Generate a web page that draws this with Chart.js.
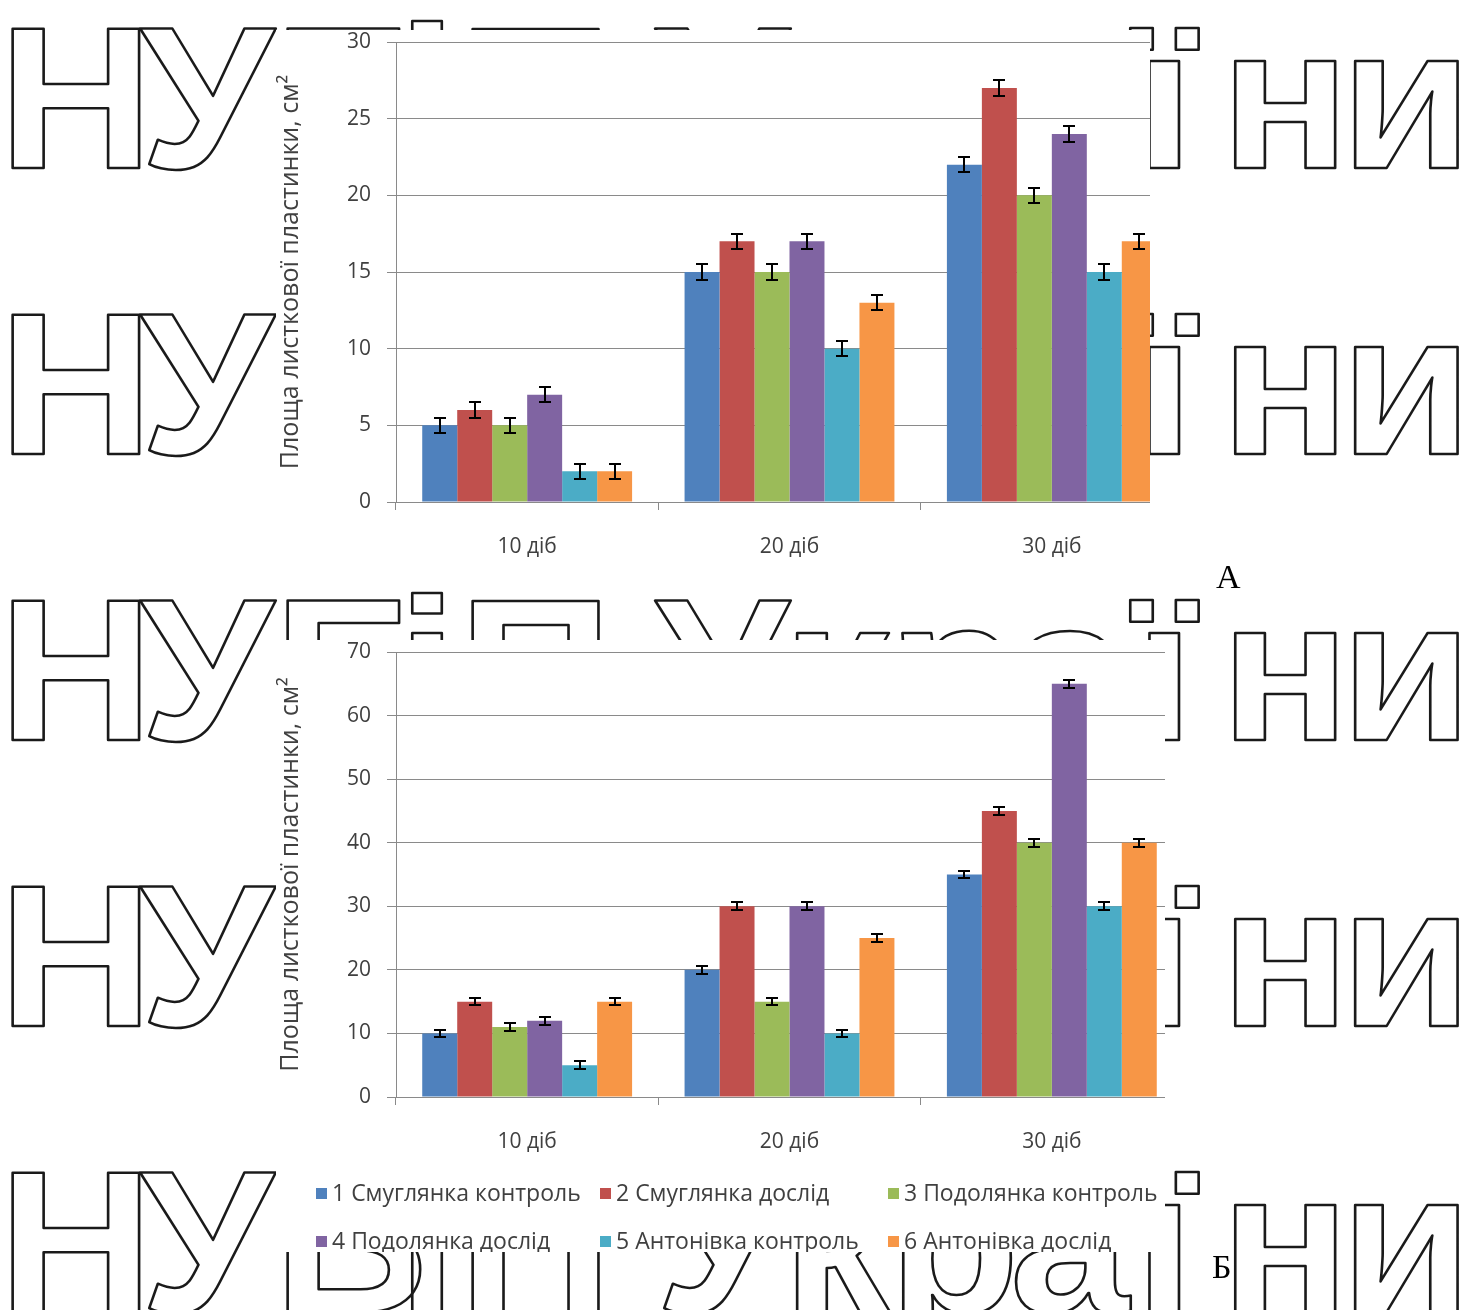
<!DOCTYPE html>
<html lang="uk">
<head>
<meta charset="utf-8">
<title>Площа листкової пластинки</title>
<script src="https://cdn.jsdelivr.net/npm/chart.js@4.4.0/dist/chart.umd.min.js"></script>
<style>
  html, body { margin: 0; padding: 0; background: #fff; }
  body { width: 1464px; height: 1310px; position: relative; overflow: hidden; }
  #wm { position: absolute; left: 0; top: 0; z-index: 0; }
  .box { position: absolute; background: #fff; overflow: hidden; z-index: 1; }
  #boxA { left: 276px; top: 30px; width: 874px; height: 545px; }
  #boxB { left: 276px; top: 640px; width: 889px; height: 612px; }
  .box canvas { position: absolute; left: 0; top: -20px; }
  .tag { position: absolute; z-index: 2; font-family: "Liberation Serif", serif; font-size: 34px; line-height: 34px; color: #000; }
</style>
</head>
<body>
<canvas id="wm" width="1464" height="1310"></canvas>
<div class="box" id="boxA"><canvas id="chartA" width="920" height="565"></canvas></div>
<div class="box" id="boxB"><canvas id="chartB" width="920" height="632"></canvas></div>
<div class="tag" style="left:1216px; top:560px;">А</div>
<div class="tag" style="left:1212px; top:1250px;">Б</div>

<script>
// ---- data ----
const categories = ['10 діб', '20 діб', '30 діб'];
const seriesNames = [
  '1 Смуглянка контроль',
  '2 Смуглянка дослід',
  '3 Подолянка контроль',
  '4 Подолянка дослід',
  '5 Антонівка контроль',
  '6 Антонівка дослід'
];
const yTitle = 'Площа листкової пластинки, см²';

// Chart А
const a1 = [5, 15, 22];
const a2 = [6, 17, 27];
const a3 = [5, 15, 20];
const a4 = [7, 17, 24];
const a5 = [2, 10, 15];
const a6 = [2, 13, 17];
const aErr = [
  [0.5, 0.5, 0.5],
  [0.5, 0.5, 0.5],
  [0.5, 0.5, 0.5],
  [0.5, 0.5, 0.5],
  [0.5, 0.5, 0.5],
  [0.5, 0.5, 0.5]
];
const aTicksMax = 30, aTicksStep = 5;

// Chart Б
const b1 = [10, 20, 35];
const b2 = [15, 30, 45];
const b3 = [11, 15, 40];
const b4 = [12, 30, 65];
const b5 = [5, 10, 30];
const b6 = [15, 25, 40];
const bErr = [
  [0.6, 0.6, 0.6],
  [0.6, 0.6, 0.6],
  [0.6, 0.6, 0.6],
  [0.6, 0.6, 0.6],
  [0.6, 0.6, 0.6],
  [0.6, 0.6, 0.6]
];
const bTicksMax = 70, bTicksStep = 10;

// ---- style ----
const colors = ['#4F81BD', '#C0504D', '#9BBB59', '#8064A2', '#4BACC6', '#F79646'];
const GRID = '#8a8a8a';
const TEXT = '#404040';
const FONT = '"Open Sans", Lato, sans-serif';

// ---- background lettering ----
(function drawLettering() {
  const c = document.getElementById('wm').getContext('2d');
  c.font = 'bold 203px "Liberation Sans"';
  c.lineWidth = 2.5;
  c.strokeStyle = '#1a1a1a';
  c.lineJoin = 'round';
  const letters = [['Н', 12], ['У', 140], ['Б', 287], ['і', 412], ['П', 472],
                   ['У', 655], ['к', 797], ['р', 902], ['а', 1015], ['ї', 1130], ['н', 1235], ['и', 1355]];
  const baselines = [168, 454, 740, 1026, 1312];
  baselines.forEach(b => letters.forEach(([ch, left]) => {
    const m = c.measureText(ch);
    c.save();
    c.translate(left, b);
    c.scale(1.06, 1);
    c.strokeText(ch, m.actualBoundingBoxLeft, 0);
    c.restore();
  }));
})();

// ---- plugins ----
const errorBars = {
  id: 'errorBars',
  afterDatasetsDraw(chart, args, opts) {
    const ctx = chart.ctx;
    const y = chart.scales.y;
    ctx.save();
    ctx.strokeStyle = '#000';
    ctx.lineWidth = 2;
    chart.data.datasets.forEach((ds, i) => {
      const meta = chart.getDatasetMeta(i);
      meta.data.forEach((bar, j) => {
        const v = ds.data[j], e = opts.errors[i][j];
        const yt = Math.round(y.getPixelForValue(v + e));
        const yb = Math.round(y.getPixelForValue(v - e));
        const x = Math.round(bar.x);
        ctx.beginPath();
        ctx.moveTo(x, yt); ctx.lineTo(x, yb);
        ctx.moveTo(x - 6, yt); ctx.lineTo(x + 6, yt);
        ctx.moveTo(x - 6, yb); ctx.lineTo(x + 6, yb);
        ctx.stroke();
      });
    });
    ctx.restore();
  }
};

const gridLegend = {
  id: 'gridLegend',
  afterDraw(chart, args, opts) {
    if (!opts.show) return;
    const ctx = chart.ctx;
    ctx.save();
    ctx.font = '23px ' + FONT;
    ctx.textBaseline = 'middle';
    chart.data.datasets.forEach((ds, i) => {
      const x = opts.cols[i % 3];
      const yy = opts.rows[Math.floor(i / 3)];
      ctx.fillStyle = ds.backgroundColor;
      ctx.fillRect(x, yy - 6, 11, 11);
      ctx.fillStyle = TEXT;
      ctx.fillText(ds.label, x + 16, yy);
    });
    ctx.restore();
  }
};

function makeChart(id, series, errors, max, step, xHeight, legend) {
  return new Chart(document.getElementById(id), {
    type: 'bar',
    data: {
      labels: categories,
      datasets: series.map((d, i) => ({
        label: seriesNames[i],
        data: d,
        backgroundColor: colors[i],
        borderWidth: 0,
        categoryPercentage: 0.8,
        barPercentage: 1.0
      }))
    },
    options: {
      responsive: false,
      animation: false,
      layout: { padding: { left: 0, right: 13, top: 32, bottom: 0 } },
      plugins: {
        legend: { display: false },
        tooltip: { enabled: false },
        errorBars: { errors },
        gridLegend: legend
      },
      scales: {
        x: {
          grid: { display: true, drawOnChartArea: false, offset: true, tickLength: 8, color: GRID },
          border: { color: GRID },
          ticks: { color: TEXT, font: { family: FONT, size: 21 }, padding: 24 },
          afterFit(s) { s.height = xHeight; }
        },
        y: {
          min: 0, max,
          grid: { color: GRID, tickLength: 9 },
          border: { color: GRID },
          ticks: { stepSize: step, color: TEXT, font: { family: FONT, size: 21 }, padding: 16 },
          title: { display: true, text: yTitle, color: TEXT, font: { family: FONT, size: 25 }, padding: { top: 0, bottom: 0 } },
          afterFit(s) { s.width = 120; }
        }
      }
    },
    plugins: [errorBars, gridLegend]
  });
}

makeChart('chartA', [a1, a2, a3, a4, a5, a6], aErr, aTicksMax, aTicksStep, 73, { show: false });
makeChart('chartB', [b1, b2, b3, b4, b5, b6], bErr, bTicksMax, bTicksStep, 155,
  { show: true, cols: [40, 324, 612], rows: [574, 622] });
</script>
</body>
</html>
